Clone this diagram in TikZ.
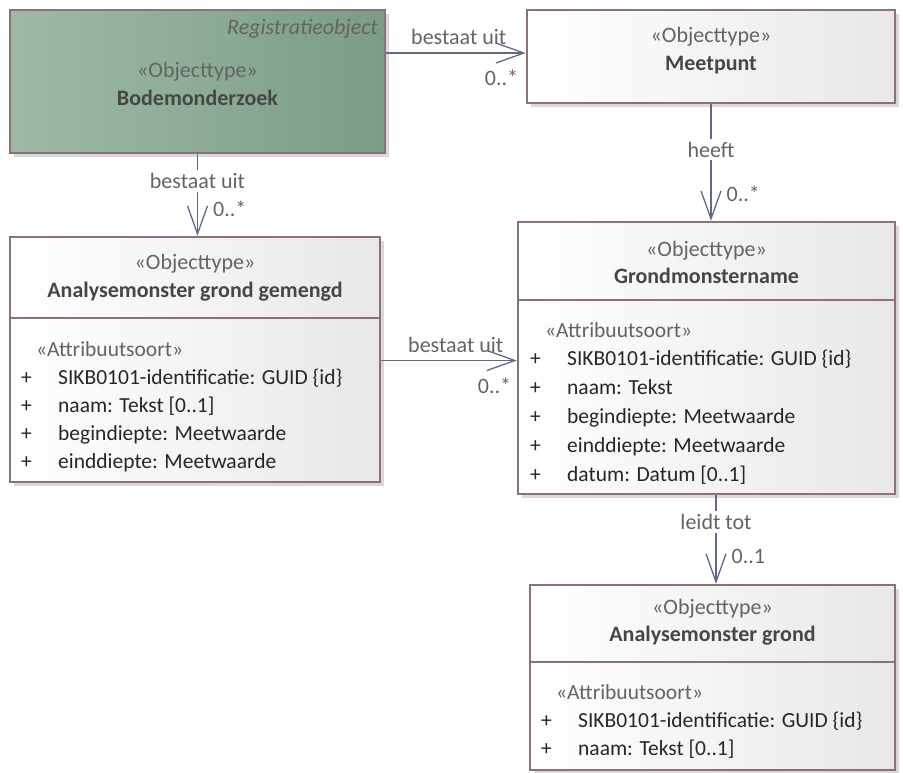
\documentclass[tikz,border=0pt]{standalone}
\usepackage{fontspec}
\setmainfont{Carlito}
\usetikzlibrary{arrows.meta,shadows}

\definecolor{boxline}{RGB}{140,115,115}
\definecolor{linkline}{RGB}{95,106,135}
\definecolor{stereo}{RGB}{100,100,100}
\definecolor{namecol}{RGB}{70,70,70}
\definecolor{greenA}{RGB}{158,186,166}
\definecolor{greenB}{RGB}{124,156,136}
\newcommand{\plus}{\makebox[37pt][l]{+}}

\begin{document}
\begin{tikzpicture}[x=1pt, y=-1pt]
        \useasboundingbox (0,0) rectangle (903,772);
        % class boxes
        \begin{scope}[every node/.style={draw=boxline, line width=2.4pt, rectangle, inner sep=0,
                left color=white, right color=black!9,
                drop shadow={shadow xshift=4pt, shadow yshift=-4pt, fill=black!25, opacity=0.6}}]
            \node [minimum width=375pt, minimum height=143pt, left color=greenA, right color=greenB] (BO) at (197.5,81.5) {};
            \node [minimum width=368pt, minimum height=93pt] (MP) at (711,56.5) {};
            \node [minimum width=370pt, minimum height=245pt] (AGG) at (195,359.5) {};
            \node [minimum width=377pt, minimum height=272pt] (GMN) at (706.5,358) {};
            \node [minimum width=365pt, minimum height=185pt] (AG) at (712.5,677.5) {};
            \draw[boxline, line width=2.4pt] (10,318) -- (380,318);
            \draw[boxline, line width=2.4pt] (518,300) -- (895,300);
            \draw[boxline, line width=2.4pt] (530,662) -- (895,662);
        \end{scope}
        % names and attributes
        \begin{scope}[every node/.style={inner sep=0, font=\fontsize{22}{27.5}\selectfont, text=black!85}]
            \node [anchor=east, text=stereo, font=\fontsize{22}{24}\selectfont\itshape] (BOtag) at (378,29) {Registratieobject};
            \node [align=center] (BOname) at (197.5,84) {{\color{stereo}«Objecttype»}\\\textbf{\color{namecol}Bodemonderzoek}};
            \node [align=center] (MPname) at (711,50.5) {{\color{stereo}«Objecttype»}\\\textbf{\color{namecol}Meetpunt}};
            \node [align=center] (AGGname) at (195,277.5) {{\color{stereo}«Objecttype»}\\\textbf{\color{namecol}Analysemonster grond gemengd}};
            \node [align=center] (GMNname) at (706.5,262.5) {{\color{stereo}«Objecttype»}\\\textbf{\color{namecol}Grondmonstername}};
            \node [align=center] (AGname) at (712.5,622) {{\color{stereo}«Objecttype»}\\\textbf{\color{namecol}Analysemonster grond}};
            \node [anchor=north west, align=left, font=\fontsize{21.5}{28}\selectfont] (AGGattr) at (21,341) {\hspace*{15pt}{\color{stereo}«Attribuutsoort»}\\
                \plus SIKB0101-identificatie: GUID \{id\}\\
                \plus naam: Tekst [0..1]\\
                \plus begindiepte: Meetwaarde\\
                \plus einddiepte: Meetwaarde};
            \node [anchor=north west, align=left, font=\fontsize{21.5}{28.8}\selectfont] (GMNattr) at (530,322) {\hspace*{15pt}{\color{stereo}«Attribuutsoort»}\\
                \plus SIKB0101-identificatie: GUID \{id\}\\
                \plus naam: Tekst\\
                \plus begindiepte: Meetwaarde\\
                \plus einddiepte: Meetwaarde\\
                \plus datum: Datum [0..1]};
            \node [anchor=north west, align=left, font=\fontsize{21.5}{28}\selectfont] (AGattr) at (541,684) {\hspace*{15pt}{\color{stereo}«Attribuutsoort»}\\
                \plus SIKB0101-identificatie: GUID \{id\}\\
                \plus naam: Tekst [0..1]};
        \end{scope}
        % associations
        \begin{scope}[every node/.style={inner sep=3pt, font=\fontsize{22}{24}\selectfont, text=stereo},
                every edge/.style={draw=linkline, line width=1.3pt, -{Straight Barb[length=28pt, width=20pt, line width=1.3pt]}}]
            \path ([yshift=3.5pt]BO.east |- MP.west) edge node [above, pos=0.52, yshift=5pt] {bestaat uit} node [at end, anchor=north east, inner sep=0, xshift=-7pt, yshift=-16pt] {0..*} ([yshift=3.5pt]MP.west);
            \path (BO.south) edge node [fill=white, pos=0.33] {bestaat uit} node [right, pos=0.67, xshift=12pt] {0..*} (BO.south |- AGG.north);
            \path (MP.south) edge node [fill=white, pos=0.39] {heeft} node [right, pos=0.77, xshift=12pt] {0..*} (MP.south |- GMN.north);
            \path ([yshift=-2.5pt]AGG.east |- GMN.west) edge node [above, pos=0.55, yshift=4pt] {bestaat uit} node [at end, anchor=north east, inner sep=0, xshift=-5pt, yshift=-17pt] {0..*} ([yshift=-2.5pt]GMN.west);
            \path ([xshift=3.5pt]AG.north |- GMN.south) edge node [fill=white, pos=0.3] {leidt tot} node [right, pos=0.69, xshift=12pt] {0..1} ([xshift=3.5pt]AG.north);
        \end{scope}
    \end{tikzpicture}
\end{document}
